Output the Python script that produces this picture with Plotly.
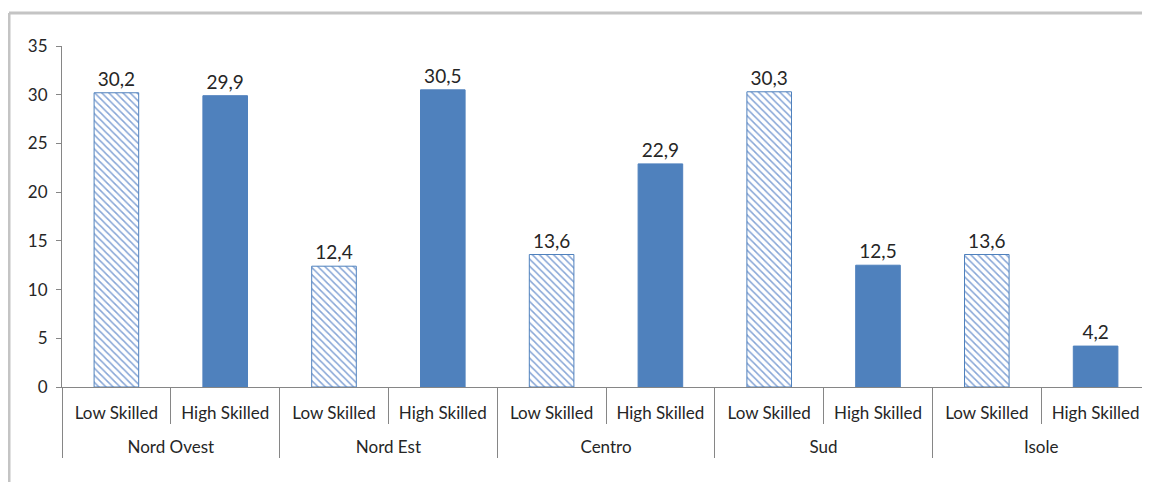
import plotly.graph_objects as go

regions = ["Nord Ovest", "Nord Est", "Centro", "Sud", "Isole"]
skills = ["Low Skilled", "High Skilled"]
low_values = [30.2, 12.4, 13.6, 30.3, 13.6]
high_values = [29.9, 30.5, 22.9, 12.5, 4.2]

outer, inner, vals, colors, shapes = [], [], [], [], []
for r, lo, hi in zip(regions, low_values, high_values):
    outer += [r, r]
    inner += [s + "<br> " for s in skills]
    vals += [lo, hi]
    colors += ["#86A5D6", "#4F81BD"]
    shapes += ["\\", ""]

fig = go.Figure(go.Bar(
    x=[outer, inner], y=vals,
    width=0.41,
    marker=dict(color=colors,
                line=dict(color="#4F81BD", width=1),
                pattern=dict(shape=shapes, bgcolor="white", size=5, solidity=0.3, fillmode="replace")),
    texttemplate="%{y:.1f}", textposition="outside", cliponaxis=False,
    textfont=dict(size=19, color="#262626", family="Lato"),
    showlegend=False,
))

fig.update_layout(
    width=1142, height=474,
    margin=dict(l=54, r=0, t=38, b=95, autoexpand=False),
    paper_bgcolor="white", plot_bgcolor="white",
    separators=",.",
    font=dict(family="Lato", size=17, color="#262626"),
    barmode="overlay",
    yaxis=dict(range=[0, 35], dtick=5, showgrid=False, showline=True, linecolor="#868686",
               linewidth=1, ticks="outside", ticklen=5, tickcolor="#868686",
               ticklabelstandoff=5,
               tickfont=dict(size=17), zeroline=False),
    xaxis=dict(type="multicategory", showline=True, linecolor="#868686", linewidth=1,
               ticks="outside", tickson="boundaries", ticklen=36, tickcolor="#868686",
               ticklabelstandoff=11,
               showdividers=True, dividercolor="#868686", dividerwidth=1,
               tickfont=dict(size=17), showgrid=False),
    shapes=[
        dict(type="line", xref="paper", yref="paper", x0=-0.0487, x1=1.01, y0=1.0968, y1=1.0968,
             line=dict(color="#C4C4C4", width=3)),
        dict(type="line", xref="paper", yref="paper", x0=-0.0487, x1=-0.0487, y0=1.0968, y1=-0.3,
             line=dict(color="#C4C4C4", width=3)),
    ],
)

fig.write_html("out.html")
